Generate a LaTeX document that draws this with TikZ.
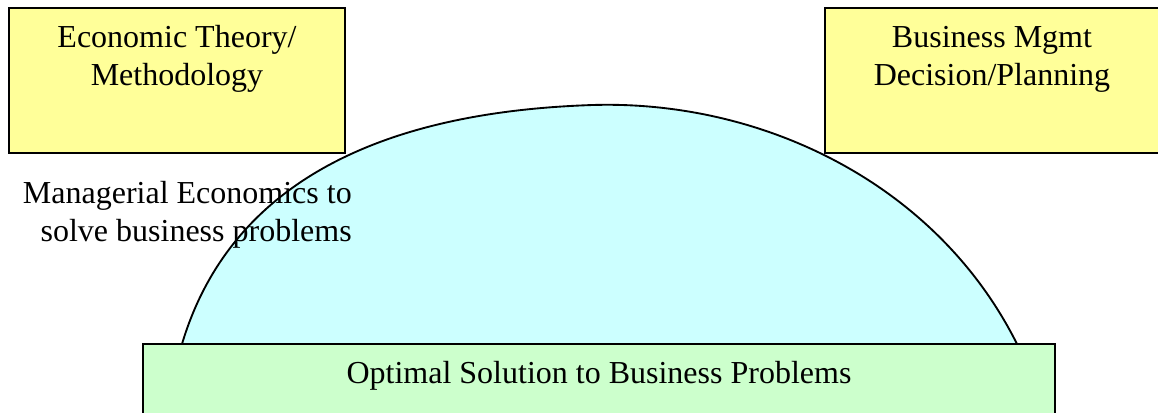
\documentclass[tikz,border=0pt]{standalone}
\usepackage{fontspec}
\setmainfont{Liberation Serif}
\definecolor{boxyellow}{HTML}{FFFF99}
\definecolor{domeblue}{HTML}{CCFFFF}
\definecolor{boxgreen}{HTML}{CCFFCC}
\begin{document}
\begin{tikzpicture}[x=.75pt,y=-.75pt,
  box/.style={draw,line width=2pt,fill=boxyellow},
  txt/.style={inner sep=0pt,align=center,font=\fontsize{24}{28.5}\selectfont}]
\useasboundingbox (0,0) rectangle (1158,413);
% dome behind the boxes
\draw[line width=1.4pt,fill=domeblue] (182,344) .. controls (240,150) and (440,110) .. (593,105)
      .. controls (763,100) and (937,184) .. (1017,344);
\draw[box] (9,8) rectangle (345,153);
\draw[box] (825,8) rectangle (1162,153);
\draw[box,fill=boxgreen] (143,344) rectangle (1055,420);
% base anchor sits on the last line
\node[txt,anchor=base] (theory) at (177,86) {Economic Theory/\\Methodology};
\node[txt,anchor=base] (mgmt) at (992,86) {Business Mgmt\\Decision/Planning};
\node[txt,anchor=base east,align=right] (mecon) at (352,242) {Managerial Economics to\\solve business problems};
\node[txt,anchor=base] (solution) at (599,384) {Optimal Solution to Business Problems};
\end{tikzpicture}
\end{document}
